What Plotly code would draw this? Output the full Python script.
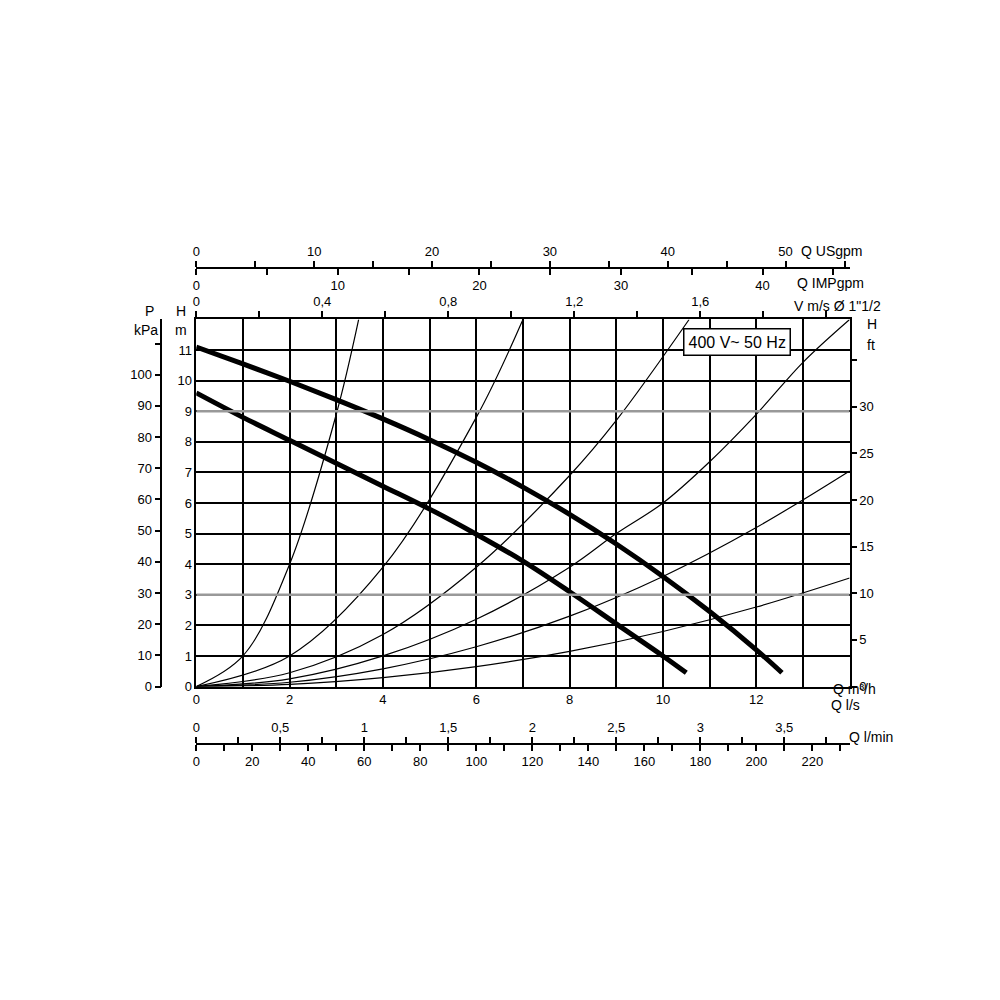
import plotly.graph_objects as go

# pump curves, Q in m3/h, H in m
q_upper = [0, 1, 2, 3, 4, 5, 6, 7, 8, 9, 10, 11, 12, 12.55]
h_upper = [11.1, 10.55, 9.98, 9.38, 8.75, 8.07, 7.33, 6.52, 5.63, 4.66, 3.6, 2.45, 1.2, 0.45]
q_lower = [0, 1, 2, 3, 4, 5, 6, 7, 8, 9, 10, 10.5]
h_lower = [9.6, 8.8, 8.05, 7.3, 6.55, 5.8, 4.98, 4.1, 3.1, 2.05, 1.0, 0.45]

# system (resistance) curves
sys_q = [
    [0, 1, 2, 3, 3.48],
    [0, 2, 4, 6, 7.0],
    [0, 2, 4, 6, 8, 9, 10.56],
    [0, 2, 4, 6, 8, 9, 10, 11, 12, 13, 14],
    [0, 2, 4, 6, 8, 10, 12, 14],
    [0, 2, 4, 6, 8, 10, 12, 14],
]
sys_h = [
    [0, 1.0, 4.0, 8.9, 12],
    [0, 1.0, 3.9, 8.8, 12],
    [0, 0.45, 1.7, 3.9, 6.9, 8.7, 12],
    [0, 0.25, 1.0, 2.2, 3.9, 5.0, 6.0, 7.35, 8.9, 10.6, 12],
    [0, 0.14, 0.58, 1.3, 2.3, 3.6, 5.2, 7.05],
    [0, 0.07, 0.29, 0.65, 1.15, 1.8, 2.6, 3.55],
]

Q_MAX = 14
H_MAX = 12
gray_rows = [3, 9]

# unit conversions per m3/h or per m
USGPM, IMPGPM, MS, LS, LMIN = 4.403, 3.666, 1 / 6.75, 0.2778, 16.667
KPA, FT = 9.81, 3.281

FONT = "Liberation Sans, Arial, sans-serif"
fig = go.Figure()

for q, h in zip(sys_q, sys_h):
    fig.add_trace(go.Scatter(x=q, y=h, mode="lines", line=dict(color="black", width=1.2, shape="spline"),
                             showlegend=False, hoverinfo="skip"))
for q, h in [(q_upper, h_upper), (q_lower, h_lower)]:
    fig.add_trace(go.Scatter(x=q, y=h, mode="lines", line=dict(color="black", width=5, shape="spline"),
                             showlegend=False))

for r in gray_rows:
    fig.add_shape(type="line", xref="x", yref="y", x0=0, x1=Q_MAX, y0=r, y1=r,
                  line=dict(color="#999", width=2.5), layer="above")

tick_font = dict(family=FONT, size=13, color="black")
X0, X1 = 0.185, 0.841
Y0, Y1 = 0.316, 0.686

def free_x(rng, dtick, pos, side, labels, domain=(X0, X1)):
    vals = []
    v = 0
    while v <= rng + 1e-9:
        vals.append(round(v, 3))
        v += dtick
    return dict(overlaying="x", anchor="free", position=pos, side=side, domain=list(domain),
                range=[0, rng], tickvals=vals, ticktext=[labels.get(t, "") for t in vals],
                showline=True, linecolor="black", linewidth=1.5, ticks="outside", ticklen=6,
                tickcolor="black", tickwidth=1.5, showgrid=False, zeroline=False, tickfont=tick_font)

def fmt(v):
    return (f"{v:g}").replace(".", ",")

top_end = 12.59
fig.update_layout(
    width=1000, height=1000, margin=dict(l=0, r=0, t=0, b=0),
    plot_bgcolor="white", paper_bgcolor="white", font=dict(family=FONT, color="black"),
    xaxis=dict(domain=[X0, X1], range=[0, Q_MAX], tickvals=list(range(15)),
               ticktext=[str(i) if i % 2 == 0 and i <= 12 else "" for i in range(15)],
               showgrid=True, gridcolor="black", gridwidth=1.5, showline=True, mirror=True,
               linecolor="black", linewidth=1.5, zeroline=False, tickfont=tick_font, ticks=""),
    yaxis=dict(domain=[Y0, Y1], range=[0, H_MAX], tickvals=list(range(13)),
               ticktext=[str(i) if i <= 11 else "" for i in range(13)],
               showgrid=True, gridcolor="black", gridwidth=1.5, showline=True, mirror=True,
               linecolor="black", linewidth=1.5, zeroline=False, tickfont=tick_font, ticks=""),
    xaxis2=free_x(top_end * USGPM, 5, 0.738, "top", {t: str(t) for t in range(0, 60, 10)}, (X0, 0.775)),
    xaxis3=free_x(top_end * IMPGPM, 5, 0.738, "bottom", {t: str(t) for t in range(0, 50, 10)}, (X0, 0.775)),
    xaxis4=dict(overlaying="x", anchor="y", side="top", range=[0, Q_MAX * MS],
                tickvals=[round(0.2 * i, 1) for i in range(11)],
                ticktext=[fmt(round(0.2 * i, 1)) if i % 2 == 0 and i <= 8 else "" for i in range(11)],
                ticks="outside", ticklen=7, tickwidth=1.5, tickcolor="black", showgrid=False,
                showline=False, zeroline=False, tickfont=tick_font),
    xaxis5=free_x(Q_MAX * LS, 0.25, 0.258, "top",
                  {round(0.5 * i, 2): fmt(0.5 * i) for i in range(8)}),
    xaxis6=free_x(Q_MAX * LMIN, 10, 0.258, "bottom", {t: str(t) for t in range(0, 240, 20)}),
    yaxis2=dict(overlaying="y", anchor="free", position=0.150, side="left", range=[0, H_MAX * KPA],
                tickvals=list(range(0, 120, 10)), ticktext=[str(t) if t <= 100 else "" for t in range(0, 120, 10)],
                showline=True, linecolor="black", linewidth=1.5, ticks="outside", ticklen=6,
                tickcolor="black", tickwidth=1.5, showgrid=False, zeroline=False, tickfont=tick_font),
    yaxis3=dict(overlaying="y", anchor="x", side="right", range=[0, H_MAX * FT],
                tickvals=list(range(0, 40, 5)), ticktext=[str(t) if t <= 30 else "" for t in range(0, 40, 5)],
                ticks="outside", ticklen=6, tickcolor="black", tickwidth=1.5, showgrid=False,
                showline=False, zeroline=False, tickfont=tick_font),
)

# dummy traces so the extra axes render
for ax in ["x2", "x3", "x4", "x5", "x6"]:
    fig.add_trace(go.Scatter(x=[0], y=[0], xaxis=ax, yaxis="y", mode="markers",
                             marker=dict(opacity=0), showlegend=False, hoverinfo="skip"))
for ay in ["y2", "y3"]:
    fig.add_trace(go.Scatter(x=[0], y=[0], xaxis="x", yaxis=ay, mode="markers",
                             marker=dict(opacity=0), showlegend=False, hoverinfo="skip"))

labels = [
    (0.790, 0.765, "Q USgpm", "left"),
    (0.786, 0.733, "Q IMPgpm", "left"),
    (0.783, 0.710, "V m/s Ø 1\"1/2", "left"),
    (0.856, 0.692, "H", "left"),
    (0.856, 0.670, "ft", "left"),
    (0.138, 0.705, "P", "center"),
    (0.135, 0.685, "kPa", "center"),
    (0.170, 0.705, "H", "center"),
    (0.170, 0.685, "m", "center"),
    (0.822, 0.303, "Q m³/h", "left"),
    (0.820, 0.287, "Q l/s", "left"),
    (0.838, 0.255, "Q l/min", "left"),
]
for x, y, t, al in labels:
    fig.add_annotation(x=x, y=y, xref="paper", yref="paper", text=t, showarrow=False,
                       xanchor=al, font=dict(family=FONT, size=14, color="black"))

fig.add_annotation(x=0.782, y=0.677, xref="paper", yref="paper", text="400 V~ 50 Hz", showarrow=False,
                   font=dict(family="Liberation Sans Narrow, Liberation Sans, sans-serif", size=16, color="black"),
                   bgcolor="white", bordercolor="black", borderwidth=1.5, borderpad=4)

fig.write_html("out.html")
